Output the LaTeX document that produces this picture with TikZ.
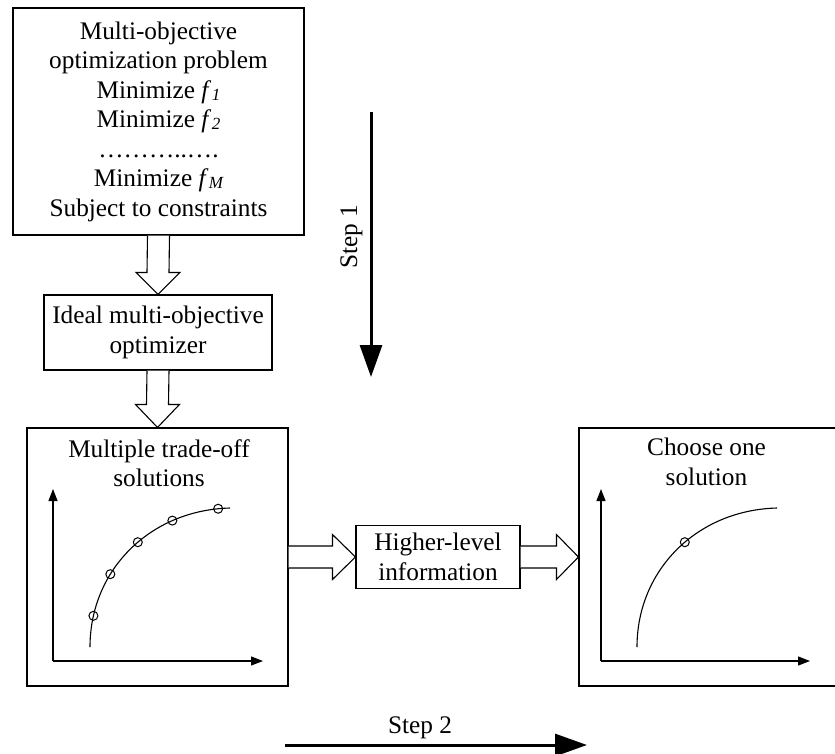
\documentclass[tikz,border=0pt]{standalone}
\usepackage{fontspec}
\setmainfont{Liberation Serif}
\usetikzlibrary{arrows.meta,calc}

% italic objective symbol with a small, slightly lowered index
\newcommand\objf[1]{\textit{f}\kern0.5pt\raisebox{-2pt}{\fontsize{17}{17}\selectfont\itshape #1}}

\begin{document}
\begin{tikzpicture}[x=1pt,y=-1pt,
  every node/.style={font=\fontsize{25.3}{29.5}\selectfont},
  box/.style={draw,line width=1.1pt,inner sep=0pt,align=center},
  hollow/.style={draw,line width=1.1pt,fill=white,line join=miter},
  steparrow/.style={line width=3pt,-{Triangle[length=32pt,width=22pt]}},
  axis/.style={line width=1.1pt,-{Triangle[length=12pt,width=9pt]}},
  front/.style={line width=1.1pt},
  solpt/.style={draw,circle,line width=1pt,inner sep=0pt,minimum size=9pt},
  title/.style={anchor=north,inner sep=0pt,align=center}
  ]
\useasboundingbox (0,0) rectangle (835,753);

% boxes
\node[box,minimum width=291pt,minimum height=227pt] (prob) at (158.5,121.5)
  {Multi-objective\\optimization problem\\Minimize \objf{1}\\Minimize \objf{2}\\………..….\\Minimize \objf{M}\\Subject to constraints};
\node[box,minimum width=228pt,minimum height=75pt] (ideal) at (158,332.5)
  {Ideal multi-objective\\optimizer};
\node[box,minimum width=261pt,minimum height=258pt] (lbox) at (157.5,557) {};
\node[box,minimum width=164pt,minimum height=63pt] (higher) at (438,557)
  {Higher-level\\information};
\node[box,minimum width=258pt,minimum height=258pt] (rbox) at (708,557) {};

\node[title] (ltitle) at (159,439) {Multiple trade-off\\solutions};
\node[title] (rtitle) at (706.5,438) {Choose one\\solution};

% hollow block arrows
\draw[hollow] ($(prob.south)+(-11,0)$) -- ($(ideal.north)+(-11,-22)$) -- ($(ideal.north)+(-22,-22)$)
  -- (ideal.north) -- ($(ideal.north)+(22,-22)$) -- ($(ideal.north)+(11,-22)$) -- ($(prob.south)+(11,0)$);
\draw[hollow] ($(ideal.south)+(-11,0)$) -- ($(lbox.north)+(-11,-23)$) -- ($(lbox.north)+(-22,-23)$)
  -- (lbox.north) -- ($(lbox.north)+(22,-23)$) -- ($(lbox.north)+(11,-23)$) -- ($(ideal.south)+(11,0)$);
\draw[hollow] ($(lbox.east)+(0,-11)$) -- ($(higher.west)+(-23,-11)$) -- ($(higher.west)+(-23,-22.5)$)
  -- (higher.west) -- ($(higher.west)+(-23,22.5)$) -- ($(higher.west)+(-23,11)$) -- ($(lbox.east)+(0,11)$);
\draw[hollow] ($(higher.east)+(0,-11)$) -- ($(rbox.west)+(-22,-11)$) -- ($(rbox.west)+(-22,-22.5)$)
  -- (rbox.west) -- ($(rbox.west)+(-22,22.5)$) -- ($(rbox.west)+(-22,11)$) -- ($(higher.east)+(0,11)$);

% trade-off front with all solutions
\begin{scope}[shift={(53,661)}]
  \coordinate (lo) at (0,0);
  \draw[axis] (lo) -- (0,-172);
  \draw[axis] (lo) -- (210,0);
  \draw[front] (37,-14) .. controls (37,-91) and (97,-151) .. (177,-153)
    node[solpt,pos=0.14] (p1) {}
    node[solpt,pos=0.35] (p2) {}
    node[solpt,pos=0.55] (p3) {}
    node[solpt,pos=0.74] (p4) {}
    node[solpt,pos=0.95] (p5) {};
\end{scope}

% same front with the chosen solution
\begin{scope}[shift={(601,661)}]
  \coordinate (ro) at (0,0);
  \draw[axis] (ro) -- (0,-172);
  \draw[axis] (ro) -- (209,0);
  \draw[front] (36,-14) .. controls (36,-91) and (96,-151) .. (176,-153)
    node[solpt,pos=0.55] (chosen) {};
\end{scope}

% step arrows
\coordinate (s1a) at (371,112);
\coordinate (s1b) at (371,377);
\draw[steparrow] (s1a) -- (s1b);
\node[rotate=90,anchor=base,inner sep=0pt] (s1lab) at (357,237) {Step 1};

\coordinate (s2a) at (285,745);
\coordinate (s2b) at (587,745);
\draw[steparrow] (s2a) -- (s2b);
\node[anchor=base,inner sep=0pt] (s2lab) at (420,733) {Step 2};
\end{tikzpicture}
\end{document}
